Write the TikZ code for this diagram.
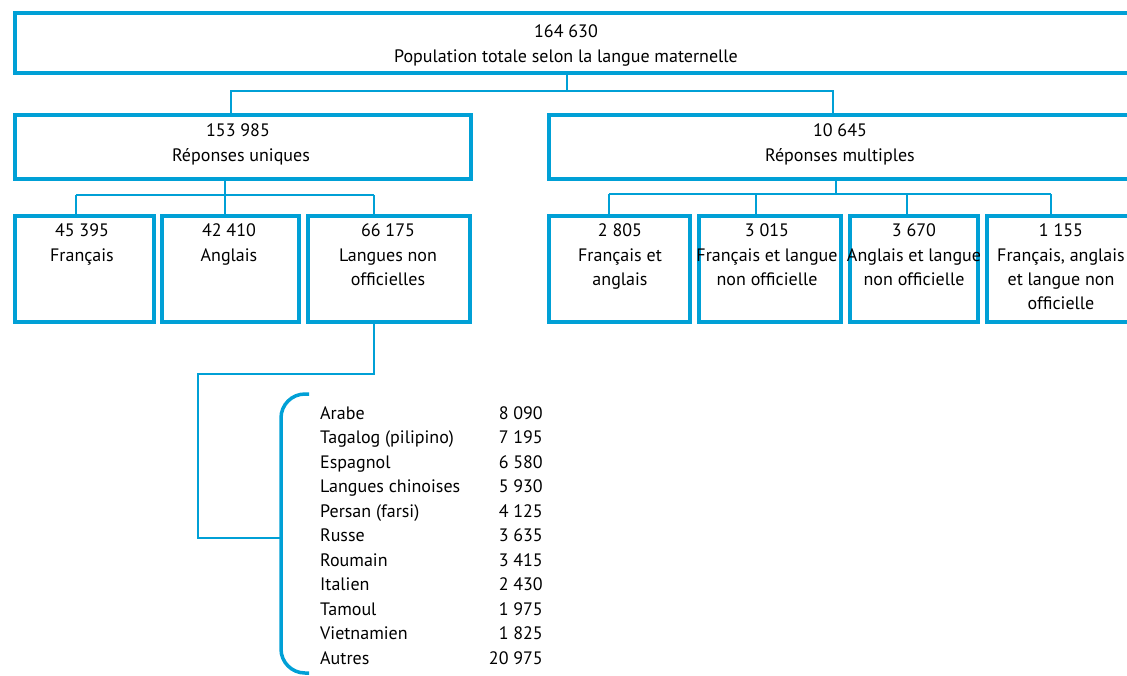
\documentclass[tikz,border=0pt]{standalone}
\usepackage{fontspec}
\setmainfont{PT Sans}
\definecolor{sc}{RGB}{0,160,214}
\begin{document}
\begin{tikzpicture}[x=1pt,y=-1pt,
  box/.style={draw=sc,line width=4pt,anchor=north west,inner sep=0pt},
  conn/.style={draw=sc,line width=1.3pt},
  brk/.style={draw=sc,line width=3.5pt,rounded corners=24pt},
  lbl/.style={anchor=base,inner sep=0pt,font=\fontsize{18}{21}\selectfont},
  lname/.style={anchor=base west,inner sep=0pt,font=\fontsize{18}{21}\selectfont},
  lnum/.style={anchor=base east,inner sep=0pt,font=\fontsize{18}{21}\selectfont}]
\path[use as bounding box] (0,0) rectangle (1127,675);
\clip (0,0) rectangle (1127,675);
% boxes
\node[box,minimum width=1126pt,minimum height=60pt] (top) at (13,11) {};
\node[box,minimum width=456pt,minimum height=64pt] (uniq) at (13,113) {};
\node[box,minimum width=592pt,minimum height=64pt] (mult) at (547,113) {};
\node[box,minimum width=139pt,minimum height=106pt] (fr) at (13,214) {};
\node[box,minimum width=137pt,minimum height=106pt] (an) at (160,214) {};
\node[box,minimum width=162pt,minimum height=106pt] (lno) at (306,214) {};
\node[box,minimum width=141pt,minimum height=106pt] (fa) at (547,214) {};
\node[box,minimum width=142pt,minimum height=106pt] (fl) at (697,214) {};
\node[box,minimum width=128pt,minimum height=106pt] (al) at (848,214) {};
\node[box,minimum width=154pt,minimum height=106pt] (fal) at (985,214) {};
% connectors
\coordinate (j0) at (567,91);
\draw[conn] (top.south -| j0) -- (j0) -| (uniq.north -| 231,0);
\draw[conn] (j0) -| (mult.north -| 833,0);
\coordinate (j1) at (225,195);
\draw[conn] (uniq.south -| j1) -- (j1);
\draw[conn] (76,195) -- (374,195);
\draw[conn] (76,195) -- (fr.north -| 76,0);
\draw[conn] (j1) -- (an.north -| j1);
\draw[conn] (374,195) -- (lno.north -| 374,0);
\coordinate (j2) at (836,194);
\draw[conn] (mult.south -| j2) -- (j2);
\draw[conn] (609,194) -- (1051,194);
\draw[conn] (609,194) -- (fa.north -| 609,0);
\draw[conn] (756,194) -- (fl.north -| 756,0);
\draw[conn] (907,194) -- (al.north -| 907,0);
\draw[conn] (1051,194) -- (fal.north -| 1051,0);
% bracket
\coordinate (bk) at (281,538);
\draw[brk] (309,394) -- (281,394) -- (281,673) -- (309,673);
\draw[conn] (lno.south -| 374,0) -- (374,374) -| (198,538) -- (bk);
% texts
\node[lbl] at (566,37) {164 630};
\node[lbl] at (566,62) {Population totale selon la langue maternelle};
\node[lbl] at (238,136) {153 985};
\node[lbl] at (241,161) {Réponses uniques};
\node[lbl] at (840,136) {10 645};
\node[lbl] at (840,161) {Réponses multiples};
\node[lbl] at (82,236) {45 395};
\node[lbl] at (82,261) {Français};
\node[lbl] at (229,236) {42 410};
\node[lbl] at (229,261) {Anglais};
\node[lbl] at (388,236) {66 175};
\node[lbl] at (388,261) {Langues non};
\node[lbl] at (388,285) {officielles};
\node[lbl] at (620,236) {2 805};
\node[lbl] at (620,261) {Français et};
\node[lbl] at (620,285) {anglais};
\node[lbl] at (767,236) {3 015};
\node[lbl] at (767,261) {Français et langue};
\node[lbl] at (767,285) {non officielle};
\node[lbl] at (914,236) {3 670};
\node[lbl] at (914,261) {Anglais et langue};
\node[lbl] at (914,285) {non officielle};
\node[lbl] at (1061,236) {1 155};
\node[lbl] at (1061,261) {Français, anglais};
\node[lbl] at (1061,285) {et langue non};
\node[lbl] at (1061,309) {officielle};
% list
\foreach \n/\v [count=\i from 0] in {Arabe/8 090,Tagalog (pilipino)/7 195,Espagnol/6 580,Langues chinoises/5 930,Persan (farsi)/4 125,Russe/3 635,Roumain/3 415,Italien/2 430,Tamoul/1 975,Vietnamien/1 825,Autres/20 975}{
  \node[lname] (ln\i) at (320,419+24.55*\i) {\n};
  \node[lnum] (lv\i) at (543,419+24.55*\i) {\v};
}
\end{tikzpicture}
\end{document}
